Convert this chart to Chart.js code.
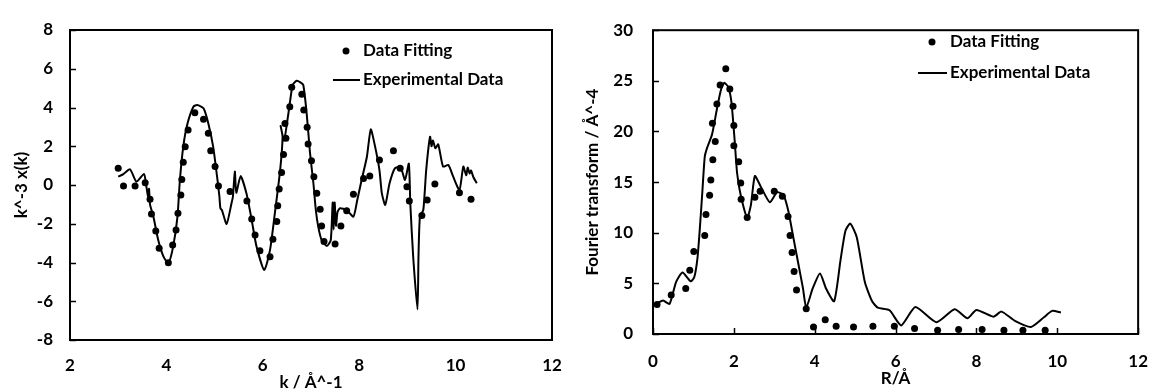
<!DOCTYPE html>
<html>
<head>
<meta charset="utf-8">
<script src="https://cdn.jsdelivr.net/npm/chart.js@4.4.1/dist/chart.umd.min.js"></script>
<style>
  html, body { margin: 0; padding: 0; background: #fff; }
  body { width: 1165px; height: 392px; position: relative; overflow: hidden; }
  canvas { position: absolute; top: 0; }
  #left { left: 0; }
  #right { left: 570px; }
</style>
</head>
<body>
<canvas id="left" width="580" height="392"></canvas>
<canvas id="right" width="595" height="392"></canvas>
<script>
// ---------- Left chart: k^3-weighted EXAFS ----------
const kExp = [3.00,3.10,3.245,3.38,3.535,3.58,3.62,3.64,3.66,3.73,3.83,3.94,4.04,4.14,4.23,4.28,4.35,4.43,4.56,4.64,4.77,4.87,4.97,5.06,5.10,5.12,5.15,5.25,5.35,5.38,5.42,5.45,5.54,5.66,5.77,5.87,6.03,6.15,6.25,6.36,6.41,6.37,6.44,6.52,6.56,6.62,6.70,6.78,6.84,6.91,6.98,7.05,7.10,7.15,7.22,7.33,7.41,7.45,7.47,7.49,7.52,7.55,7.60,7.74,7.88,7.96,8.05,8.16,8.24,8.33,8.42,8.47,8.54,8.63,8.74,8.86,8.95,9.03,9.06,9.12,9.21,9.23,9.26,9.33,9.39,9.47,9.50,9.53,9.58,9.64,9.74,9.85,9.95,10.08,10.16,10.22,10.25,10.29,10.32,10.37,10.44];
const chiExp = [0.43,0.55,0.81,0.17,0.57,0.00,-0.60,-0.20,-1.00,-1.63,-2.84,-3.70,-4.04,-3.18,-1.63,0.26,1.98,3.10,4.04,4.13,3.96,3.18,1.98,0.26,-0.60,-1.20,-1.29,-2.01,-0.95,-0.60,0.69,-0.40,0.46,-0.43,-1.81,-3.18,-4.39,-3.35,-1.46,0.77,2.49,3.05,2.30,3.50,4.22,5.16,5.38,5.30,5.16,3.70,1.64,0.09,-1.29,-2.15,-2.84,-3.15,-2.84,-0.90,-2.30,-0.90,-2.10,-1.40,-1.20,-1.29,-1.63,-0.77,0.26,1.46,2.87,1.98,0.77,-0.43,-1.03,0.09,0.86,0.91,0.26,1.10,-0.95,-3.70,-6.42,-3.70,-1.63,-1.29,0.77,2.49,2.00,2.30,1.90,2.10,0.95,1.03,0.43,-0.26,0.95,0.50,0.90,0.60,0.75,0.40,0.09];
const kFit = [3.00,3.11,3.35,3.56,3.66,3.69,3.78,3.85,4.04,4.13,4.20,4.24,4.30,4.32,4.35,4.39,4.45,4.59,4.77,4.87,4.92,5.01,5.08,5.32,5.67,5.77,5.84,5.94,6.15,6.21,6.29,6.31,6.34,6.39,6.43,6.48,6.46,6.56,6.60,6.81,6.85,6.92,6.94,7.01,7.06,7.12,7.19,7.22,7.27,7.50,7.62,7.74,7.88,8.09,8.22,8.42,8.71,8.85,8.99,9.04,9.30,9.41,9.57,10.08,10.32];
const chiFit = [0.86,-0.05,-0.05,0.12,-0.74,-1.50,-2.37,-3.27,-4.01,-3.10,-2.32,-1.46,-0.52,0.29,1.17,1.98,2.84,3.73,3.39,2.67,1.77,0.95,-0.05,-0.34,-0.83,-1.75,-2.58,-3.39,-3.70,-2.80,-1.89,-1.07,-0.21,0.64,1.58,2.41,3.18,4.04,5.04,4.68,3.87,2.98,2.12,1.25,0.43,-0.43,-1.25,-2.12,-2.92,-3.05,-2.12,-1.33,-0.48,0.34,0.46,1.29,1.77,0.86,-0.09,-0.83,-1.58,-0.77,0.05,-0.40,-0.74];
const kTicks = [2,4,6,8,10,12];
const chiTicks = [-8,-6,-4,-2,0,2,4,6,8];

// ---------- Right chart: Fourier transform ----------
const rExp = [0.05,0.25,0.41,0.57,0.73,0.93,1.02,1.10,1.16,1.22,1.28,1.34,1.46,1.58,1.68,1.76,1.86,1.94,2.02,2.08,2.17,2.33,2.42,2.52,2.66,2.89,3.07,3.23,3.35,3.47,3.59,3.71,3.79,3.95,4.13,4.28,4.48,4.64,4.76,4.88,5.04,5.24,5.42,5.56,5.85,6.14,6.49,7.01,7.46,7.78,8.00,8.42,8.62,8.94,9.35,9.67,9.87,10.09];
const ftExp = [2.91,3.30,2.97,5.13,6.08,5.20,5.60,7.50,10.50,14.00,17.50,18.40,19.70,22.20,24.10,24.80,24.40,22.90,19.10,15.90,13.70,11.50,12.70,15.60,14.60,13.00,14.00,13.70,12.10,9.56,7.03,4.50,2.60,4.50,5.98,4.50,3.23,7.34,10.20,10.90,9.56,5.13,3.23,2.60,2.34,0.85,2.66,1.17,2.44,1.55,2.37,1.71,2.21,1.33,0.70,1.65,2.28,2.12];
const rFit = [0.10,0.45,0.81,0.91,1.01,1.28,1.31,1.40,1.43,1.48,1.54,1.47,1.58,1.66,1.80,1.90,1.98,2.00,2.00,2.12,2.17,2.18,2.33,2.52,2.65,3.00,3.20,3.34,3.39,3.44,3.49,3.55,3.79,3.97,4.26,4.53,4.96,5.44,5.97,6.47,7.04,7.56,8.14,8.68,9.15,9.70];
const ftFit = [2.91,3.86,4.50,6.30,8.14,9.72,11.80,13.70,15.20,17.20,19.00,20.80,22.70,24.60,26.20,24.20,22.50,20.60,18.60,17.00,14.90,13.30,11.50,13.50,14.10,14.10,13.60,11.60,9.72,8.04,6.17,4.34,2.50,0.70,1.40,0.76,0.70,0.76,0.76,0.54,0.38,0.44,0.44,0.38,0.38,0.38];
const rTicks = [0,2,4,6,8,10,12];
const ftTicks = [0,5,10,15,20,25,30];

const legendLabels = ['Data Fitting', 'Experimental Data'];

const FONT = 'Lato, "Open Sans", sans-serif';
const INK = '#000';
const FS = 17;

function pts(xs, ys) { return xs.map((x, i) => ({ x: x, y: ys[i] })); }

// Frame, inner tick marks and inline legend
const framePlugin = {
  id: 'frame',
  afterDraw(chart, args, o) {
    const ctx = chart.ctx;
    const a = chart.chartArea;
    ctx.save();
    ctx.strokeStyle = INK;
    ctx.lineWidth = 2;
    ctx.strokeRect(a.left, a.top, a.right - a.left, a.bottom - a.top);
    ctx.lineWidth = 1.5;
    const len = 6;
    if (o.yTicks) {
      chart.scales.y.ticks.forEach(t => {
        const py = Math.round(chart.scales.y.getPixelForValue(t.value)) + 0.5;
        ctx.beginPath(); ctx.moveTo(a.left, py); ctx.lineTo(a.left + len, py); ctx.stroke();
      });
    }
    if (o.xTicks) {
      chart.scales.x.ticks.forEach(t => {
        const px = Math.round(chart.scales.x.getPixelForValue(t.value)) + 0.5;
        ctx.beginPath(); ctx.moveTo(px, a.bottom); ctx.lineTo(px, a.bottom - len); ctx.stroke();
      });
    }
    // legend
    const L = o.legend;
    const ds = chart.data.datasets;
    ctx.font = 'bold ' + FS + 'px ' + FONT;
    ctx.fillStyle = INK;
    ctx.textBaseline = 'middle';
    ctx.textAlign = 'left';
    ctx.beginPath();
    ctx.arc(L.dotX, L.row1, 3.5, 0, Math.PI * 2);
    ctx.fill();
    ctx.fillText(ds[0].label, L.textX, L.row1);
    ctx.lineWidth = 2;
    ctx.beginPath(); ctx.moveTo(L.lineX1, L.row2); ctx.lineTo(L.lineX2, L.row2); ctx.stroke();
    ctx.fillText(ds[1].label, L.textX, L.row2);
    ctx.restore();
  }
};

function makeChart(canvasId, cfg) {
  const font = { family: FONT, size: FS, weight: 'bold' };
  return new Chart(document.getElementById(canvasId), {
    type: 'scatter',
    data: {
      datasets: [
        { label: legendLabels[0], data: pts(cfg.fx, cfg.fy), showLine: false,
          pointRadius: 3.5, pointBackgroundColor: INK, pointBorderWidth: 0, order: 1 },
        { label: legendLabels[1], data: pts(cfg.ex, cfg.ey), showLine: true,
          pointRadius: 0, borderColor: INK, borderWidth: 2, tension: 0.2, order: 2 }
      ]
    },
    options: {
      responsive: false,
      animation: false,
      devicePixelRatio: 1,
      layout: { padding: cfg.padding },
      plugins: {
        legend: { display: false },
        tooltip: { enabled: false },
        frame: cfg.frame
      },
      scales: {
        x: {
          type: 'linear', min: cfg.xTicks[0], max: cfg.xTicks[cfg.xTicks.length - 1],
          afterBuildTicks: s => { s.ticks = cfg.xTicks.map(v => ({ value: v })); },
          afterFit: s => { s.height = cfg.xAxisH; },
          grid: { display: false, drawTicks: false },
          border: { display: false },
          ticks: { color: INK, font: font, padding: cfg.xTickPad, maxRotation: 0 },
          title: { display: true, text: cfg.xTitle, color: INK, font: font,
                   padding: { top: 0, bottom: cfg.xTitlePad } }
        },
        y: {
          type: 'linear', min: cfg.yTicks[0], max: cfg.yTicks[cfg.yTicks.length - 1],
          afterBuildTicks: s => { s.ticks = cfg.yTicks.map(v => ({ value: v })); },
          afterFit: s => { s.width = cfg.yAxisW; },
          grid: { display: false, drawTicks: false },
          border: { display: false },
          ticks: { color: INK, font: font, padding: cfg.yTickPad },
          title: { display: true, text: cfg.yTitle, color: INK, font: font,
                   padding: { top: cfg.yTitlePad, bottom: 0 } }
        }
      }
    },
    plugins: [framePlugin]
  });
}

function draw() {
  makeChart('left', {
    fx: kFit, fy: chiFit, ex: kExp, ey: chiExp,
    xTicks: kTicks, yTicks: chiTicks,
    xTitle: 'k / Å^-1', yTitle: 'k^-3 x(k)',
    padding: { top: 30, right: 28, left: 0, bottom: 0 },
    xAxisH: 52, yAxisW: 70, xTickPad: 15, yTickPad: 17, xTitlePad: -1, yTitlePad: 11,
    frame: { yTicks: true, xTicks: false,
             legend: { dotX: 346, lineX1: 333, lineX2: 360, textX: 363, row1: 51, row2: 80 } }
  });
  makeChart('right', {
    fx: rFit, fy: ftFit, ex: rExp, ey: ftExp,
    xTicks: rTicks, yTicks: ftTicks,
    xTitle: 'R/Å', yTitle: 'Fourier transform / Å^-4',
    padding: { top: 18, right: 15, left: 0, bottom: 0 },
    xAxisH: 58, yAxisW: 83, xTickPad: 17, yTickPad: 20, xTitlePad: 3, yTitlePad: 12,
    frame: { yTicks: true, xTicks: true,
             legend: { dotX: 362, lineX1: 348, lineX2: 377, textX: 380, row1: 42, row2: 73 } }
  });
}

if (document.fonts && document.fonts.load) {
  document.fonts.load('bold 17px Lato').then(draw, draw);
} else {
  draw();
}
</script>
</body>
</html>
